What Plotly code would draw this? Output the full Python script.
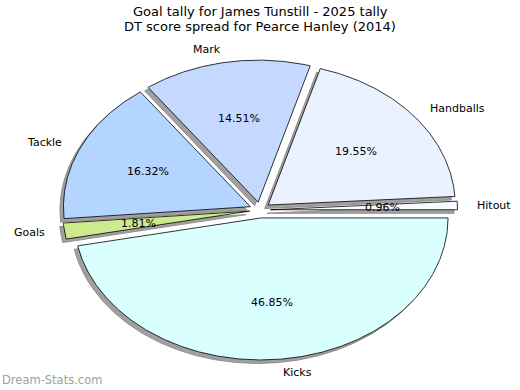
import math
import plotly.graph_objects as go

# ---- data (clockwise from 3 o'clock) ----
categories = ["Kicks", "Goals", "Tackle", "Mark", "Handballs", "Hitout"]
values = [46.85, 1.81, 16.32, 14.51, 19.55, 0.96]
colors = ["#D9FFFF", "#CCEB8E", "#B3D5FF", "#C5D8FF", "#EBF2FF", "#F7FAFF"]

title_lines = ["Goal tally for James Tunstill - 2025 tally",
               "DT score spread for Pearce Hanley (2014)"]
watermark = "Dream-Stats.com"

# ---- layout geometry (pixel space) ----
W, H = 520, 390
CX, CY = 260, 210
RX, RY = 187, 142
PULL = 10.5
SH_DX, SH_DY = -3.5, 3.5
FONT = "DejaVu Sans"

total = sum(values)
fig = go.Figure()

slices = []
start = 0.0
for cat, v, col in zip(categories, values, colors):
    span = 360.0 * v / total
    a0, a1 = start, start + span
    mid = math.radians((a0 + a1) / 2)
    ox = CX + PULL * math.cos(mid)
    oy = CY + PULL * (RY / RX) * math.sin(mid)
    n = max(3, int(span * 2))
    xs, ys = [ox], [oy]
    for i in range(n + 1):
        a = math.radians(a0 + span * i / n)
        xs.append(ox + RX * math.cos(a))
        ys.append(oy + RY * math.sin(a))
    xs.append(ox)
    ys.append(oy)
    slices.append((cat, v, col, xs, ys, mid, ox, oy))
    start = a1

# shadows first
for cat, v, col, xs, ys, mid, ox, oy in slices:
    fig.add_trace(go.Scatter(x=[x + SH_DX for x in xs], y=[y + SH_DY for y in ys],
                             mode="lines", fill="toself", fillcolor="#a0a0a0",
                             line=dict(color="#909090", width=1),
                             hoverinfo="skip", showlegend=False))

for cat, v, col, xs, ys, mid, ox, oy in slices:
    fig.add_trace(go.Scatter(x=xs, y=ys, mode="lines", fill="toself", fillcolor=col,
                             line=dict(color="#000000", width=0.8),
                             name=cat, hoverinfo="name", showlegend=False))

annotations = []
for cat, v, col, xs, ys, mid, ox, oy in slices:
    px = ox + 0.6 * RX * math.cos(mid)
    py = oy + 0.6 * RY * math.sin(mid)
    annotations.append(dict(x=px, y=py, text=f"{v:.2f}%", showarrow=False,
                            xref="x", yref="y", font=dict(family=FONT, size=11, color="#000")))
    lx = CX + 1.15 * RX * math.cos(mid)
    ly = CY + 1.15 * RY * math.sin(mid)
    annotations.append(dict(x=lx, y=ly, text=cat, showarrow=False, xref="x", yref="y",
                            xanchor="left" if math.cos(mid) > 0 else "right",
                            font=dict(family=FONT, size=11, color="#000")))

annotations.append(dict(x=260, y=11, text=title_lines[0], showarrow=False, xref="x", yref="y",
                        font=dict(family=FONT, size=13, color="#000")))
annotations.append(dict(x=260, y=26, text=title_lines[1], showarrow=False, xref="x", yref="y",
                        font=dict(family=FONT, size=13, color="#000")))
annotations.append(dict(x=0, y=380, text=watermark, showarrow=False, xref="x", yref="y",
                        xanchor="left", font=dict(family=FONT, size=11.5, color="#a0a0a0")))

fig.update_layout(
    width=W, height=H, margin=dict(l=0, r=0, t=0, b=0),
    paper_bgcolor="white", plot_bgcolor="white",
    xaxis=dict(range=[0, W], visible=False, fixedrange=True),
    yaxis=dict(range=[H, 0], visible=False, fixedrange=True),
    annotations=annotations,
)

fig.write_html("out.html", config={"displayModeBar": False},
               post_script="document.body.style.margin='0';document.body.style.overflow='hidden';")
